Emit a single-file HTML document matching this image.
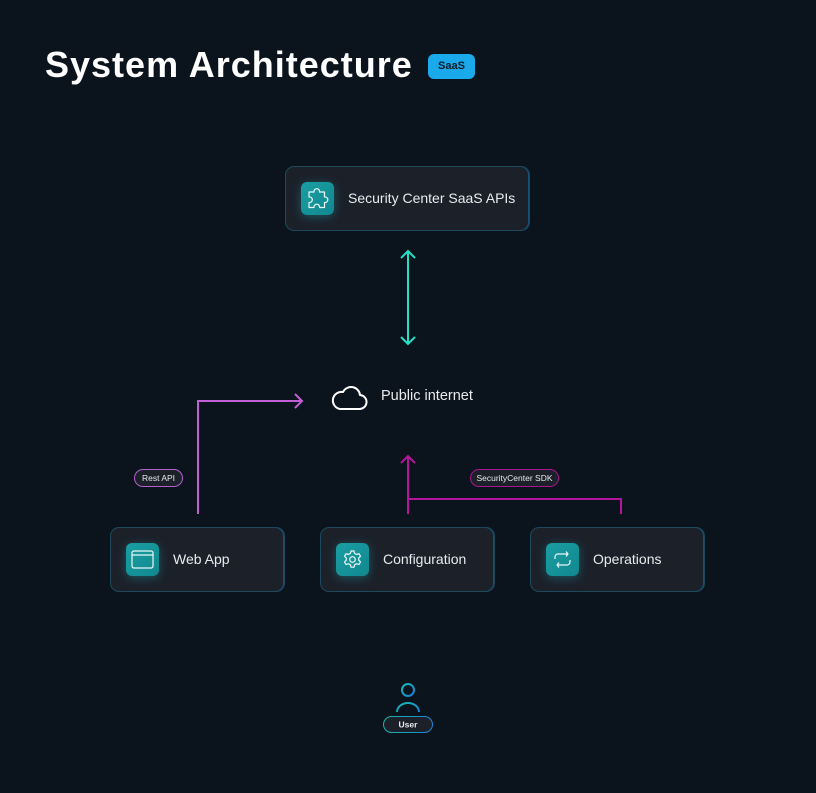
<!DOCTYPE html>
<html><head><meta charset="utf-8"><style>
*{margin:0;padding:0;box-sizing:border-box}
html,body{width:816px;height:793px;background:#0b141d;overflow:hidden;font-family:"Liberation Sans",sans-serif}
.t{position:absolute;left:45px;top:43px;font-size:36px;font-weight:bold;color:#fff;letter-spacing:1px;line-height:44px}
.badge{position:absolute;left:428px;top:54px;width:47px;height:25px;border-radius:6px;background:#1aa9ea;color:#0b1a26;font-size:11px;font-weight:bold;text-align:center;line-height:25px}
.node{position:absolute;height:65px;border-radius:9px;background:#1c2029;border:1px solid #1c4a5c;box-shadow:inset -1px 0 0 #16507a}
.ic{position:absolute;left:15px;top:15px;width:33px;height:33px;border-radius:6px;background:linear-gradient(135deg,#1a9ea3,#11888f);box-shadow:0 2px 10px rgba(30,190,200,.35)}
.ic svg{position:absolute;left:0;top:0}
.lbl{position:absolute;left:62px;top:0;line-height:63px;font-size:14px;color:#e8eaed;white-space:nowrap}
.pill{position:absolute;height:18px;border-radius:9px;background:#1c2029;color:#e8eaed;font-size:8.5px;text-align:center;line-height:16px;white-space:nowrap}
</style></head><body>
<div class="t">System Architecture</div>
<div class="badge">SaaS</div>

<svg width="816" height="793" style="position:absolute;left:0;top:0">
  <!-- teal double arrow -->
  <g stroke="#22dfc6" stroke-width="2" fill="none">
    <line x1="408" y1="251" x2="408" y2="343"/>
    <polyline points="401,258 408,251 415,258"/>
    <polyline points="401,337 408,344 415,337"/>
  </g>
  <!-- purple rest api -->
  <g stroke="#c35fd6" stroke-width="2" fill="none">
    <polyline points="198,514 198,401 302,401"/>
    <polyline points="295,394 302,401 295,408"/>
  </g>
  <!-- magenta sdk -->
  <g stroke="#b3169c" stroke-width="2" fill="none">
    <polyline points="408,514 408,456"/>
    <polyline points="401,463 408,456 415,463"/>
    <polyline points="408,499 621,499 621,514"/>
  </g>
  <!-- cloud -->
  <path d="M340,409 h19 a7,7 0 0 0 1,-14 a9,9 0 0 0 -17,-3 a7,7 0 0 0 -3,17 z" stroke="#fff" stroke-width="2" fill="none" stroke-linejoin="round"/>
  <!-- user -->
  <defs><linearGradient id="ug" x1="0" y1="0" x2="1" y2="1"><stop offset="0" stop-color="#18b8b0"/><stop offset="1" stop-color="#1a7fd6"/></linearGradient>
  <linearGradient id="pg" x1="0" y1="0" x2="1" y2="0"><stop offset="0" stop-color="#17b7a8"/><stop offset="1" stop-color="#1a86d8"/></linearGradient></defs>
  <circle cx="408" cy="690" r="6" stroke="url(#ug)" stroke-width="2" fill="none"/>
  <path d="M397,712 a11,9 0 0 1 22,0" stroke="url(#ug)" stroke-width="2" fill="none"/>
  <rect x="383.5" y="716.5" width="49" height="16" rx="8" fill="#1c2029" stroke="url(#pg)" stroke-width="1"/>
  <text x="408" y="727.5" text-anchor="middle" font-family="Liberation Sans, sans-serif" font-size="8.5" font-weight="bold" fill="#e8eaed">User</text>
</svg>

<div style="position:absolute;left:381px;top:388px;font-size:14.5px;color:#e8eaed;white-space:nowrap">Public internet</div>

<div class="pill" style="left:134px;top:469px;width:49px;border:1px solid #b55fcc">Rest API</div>
<div class="pill" style="left:470px;top:469px;width:89px;border:1px solid #a8158f">SecurityCenter SDK</div>

<div class="node" style="left:285px;top:166px;width:245px">
  <div class="ic"><svg width="33" height="33" viewBox="0 0 33 33" fill="none" stroke="#e8f8f8" stroke-width="1.2" stroke-linejoin="round">
    <path d="M8,10 h5 a2.8,2.8 0 1 1 5.5,0 h5 v5 a2.8,2.8 0 1 1 0,5.5 v5 h-5 a2.8,2.8 0 1 0 -5.5,0 h-5 v-5 a2.8,2.8 0 1 0 0,-5.5 z"/></svg></div>
  <div class="lbl">Security Center SaaS APIs</div>
</div>

<div class="node" style="left:110px;top:527px;width:175px">
  <div class="ic"><svg width="33" height="33" viewBox="0 0 33 33" fill="none" stroke="#e8f8f8" stroke-width="1.2">
    <rect x="6" y="8" width="21" height="17" rx="2"/><line x1="6" y1="12" x2="27" y2="12"/></svg></div>
  <div class="lbl">Web App</div>
</div>

<div class="node" style="left:320px;top:527px;width:175px">
  <div class="ic"><svg width="33" height="33" viewBox="0 0 33 33" fill="none" stroke="#e8f8f8" stroke-width="1.2" stroke-linejoin="round">
    <path d="M15,8 h3 l0.6,2.4 l2,1.1 l2.4,-0.8 l1.5,2.6 l-1.8,1.7 v2.2 l1.8,1.7 l-1.5,2.6 l-2.4,-0.8 l-2,1.1 l-0.6,2.4 h-3 l-0.6,-2.4 l-2,-1.1 l-2.4,0.8 l-1.5,-2.6 l1.8,-1.7 v-2.2 l-1.8,-1.7 l1.5,-2.6 l2.4,0.8 l2,-1.1 z"/>
    <circle cx="16.5" cy="16.5" r="2.8"/></svg></div>
  <div class="lbl">Configuration</div>
</div>

<div class="node" style="left:530px;top:527px;width:175px">
  <div class="ic"><svg width="33" height="33" viewBox="0 0 33 33" fill="none" stroke="#e8f8f8" stroke-width="1.2" stroke-linejoin="round">
    <path d="M9,16 v-2 a3,3 0 0 1 3,-3 h10 l-2,-2.5 M22,11 l-2,2.5"/>
    <path d="M24,17 v2 a3,3 0 0 1 -3,3 h-10 l2,-2.5 M11,22 l2,2.5"/></svg></div>
  <div class="lbl">Operations</div>
</div>
</body></html>
